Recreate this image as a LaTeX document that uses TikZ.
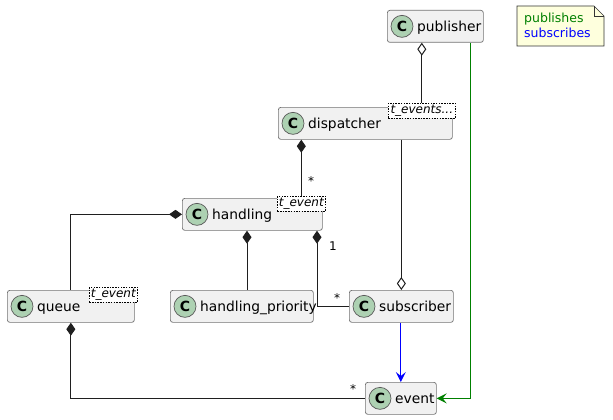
\documentclass[tikz,border=0pt]{standalone}
\usepackage{fontspec}
\setmainfont{DejaVu Sans}
\usetikzlibrary{arrows.meta,calc}
\definecolor{boxfill}{HTML}{F1F1F1}
\definecolor{spot}{HTML}{ADD1B2}
\definecolor{notefill}{HTML}{FEFFDD}
\definecolor{pubgreen}{HTML}{008000}
\definecolor{subblue}{HTML}{0000FF}
\tikzset{
  clsbox/.style={draw=black!55, line width=0.7pt, fill=boxfill, rounded corners=2.5pt,
    minimum height=32pt, inner sep=0pt, anchor=north west},
  spotc/.style={circle, draw=black!65, line width=0.7pt, fill=spot, minimum size=22pt,
    inner sep=0pt, font=\fontsize{14}{14}\selectfont\bfseries},
  clstext/.style={anchor=base west, inner sep=0pt, font=\fontsize{13.8}{16}\selectfont},
  tplbox/.style={draw=black, dash pattern=on 1.5pt off 1.2pt, line width=0.6pt, fill=white,
    anchor=north west, inner sep=0pt, minimum height=15pt,
    font=\fontsize{12}{12}\selectfont\itshape},
  assoc/.style={draw=black!88, line width=1pt},
  compo/.style={assoc, {Diamond[length=13pt,width=9pt]}-},
  aggr/.style={assoc, {Diamond[open,length=13pt,width=9pt,fill=white]}-},
  aggrend/.style={assoc, -{Diamond[open,length=13pt,width=9pt,fill=white]}},
  depend/.style={line width=1pt, -{Stealth[length=10pt,width=10pt,inset=4pt]}},
  mult/.style={inner sep=0pt, font=\fontsize{12}{12}\selectfont},
  notetext/.style={anchor=base west, inner sep=0pt, font=\fontsize{12.5}{14}\selectfont},
}
\newcommand\UmlClass[5]{%
  \node[clsbox, minimum width=#4pt] (#1) at (#2,#3) {};
  \node[spotc] (#1c) at ($(#1.west)+(15,0)$) {C};
  \node[clstext] (#1t) at ($(#1.west)+(30,5)$) {#5};
}
\begin{document}
\begin{tikzpicture}[x=1pt,y=-1pt]
\useasboundingbox (0,0) rectangle (613,420);
\fill[white] (0,0) rectangle (613,420);

% classes
\UmlClass{pub}{387}{10}{96}{publisher}
\UmlClass{disp}{278}{107}{174}{dispatcher}
\UmlClass{hand}{182}{198}{140}{handling}
\UmlClass{queue}{7}{290}{127}{queue}
\UmlClass{hp}{170}{290}{143}{handling\_priority}
\UmlClass{sub}{349}{290}{104}{subscriber}
\UmlClass{event}{365}{382}{71}{event}

% template parameters
\node[tplbox, minimum width=67pt] (dtpl) at (388,103) {t\_events...};
\node[tplbox, minimum width=48pt] (htpl) at (277,196) {t\_event};
\node[tplbox, minimum width=48pt] (qtpl) at (89,287) {t\_event};

% note
\draw[draw=black!80, line width=0.6pt, fill=notefill]
  (517,6) -- (594,6) -- (604,16) -- (604,46) -- (517,46) -- cycle;
\draw[draw=black!80, line width=0.6pt] (594,6) -- (594,16) -- (604,16);
\node[notetext, text=pubgreen] (n1) at (524,23) {publishes};
\node[notetext, text=subblue] (n2) at (524,38) {subscribes};

% connectors
\draw[aggr] (pub.south -| dtpl.north) -- (dtpl.north);
\draw[compo] (disp.south -| htpl.north) -- (htpl.north);
\draw[aggrend] (disp.south -| sub.north) -- (sub.north);
\draw[compo] (hand.west) -| (queue.north);
\coordinate (hpTop) at ($(hand.south west)+(65,0)$);
\draw[compo] (hpTop) -- (hpTop |- hp.north);
\coordinate (hsTop) at ($(hand.south west)+(135,0)$);
\draw[compo] (hsTop) |- (sub.west);
\draw[compo] (queue.south) |- (event.west);
\draw[depend, draw=subblue] (sub.south -| event.north) -- (event.north);
\coordinate (pubOut) at ($(pub.south east)+(-13.5,0)$);
\draw[depend, draw=pubgreen] (pubOut) |- (event.east);

% multiplicities
\node[mult] (m1) at (311,181) {*};
\node[mult] (m2) at (333,246) {1};
\node[mult] (m3) at (337,298) {*};
\node[mult] (m4) at (353,389) {*};
\end{tikzpicture}
\end{document}
